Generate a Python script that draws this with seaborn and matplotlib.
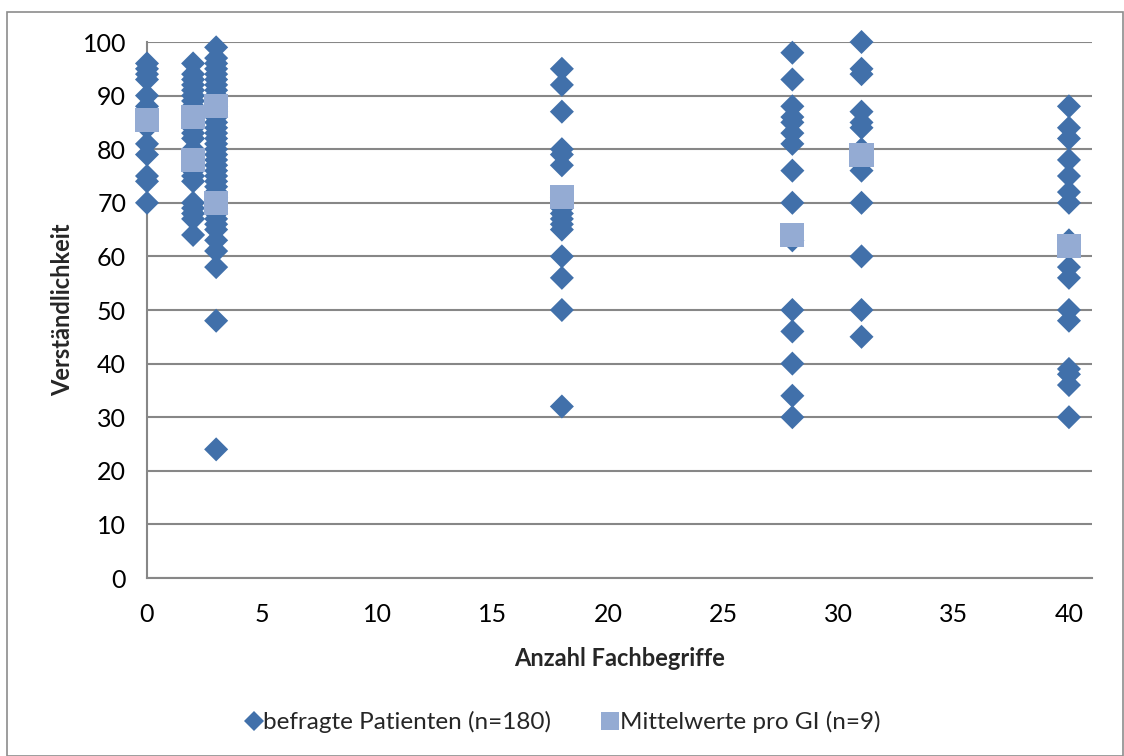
import matplotlib
matplotlib.use("Agg")
import matplotlib.pyplot as plt
import seaborn as sns
import pandas as pd
from matplotlib.lines import Line2D
from matplotlib.patches import Rectangle

# Individual patient ratings, grouped by number of technical terms
x_terms = [0, 2, 3, 18, 28, 31, 40]
ratings_0 = [96, 95, 94, 93, 90, 88, 87, 86, 85, 84, 81, 79, 75, 74, 70]
ratings_2 = [96, 94, 93, 92, 91, 90, 89, 88, 87, 86, 85, 84, 83, 82, 80, 79,
             78, 77, 76, 75, 74, 70, 69, 68, 67, 64]
ratings_3 = [99, 97, 96, 95, 94, 93, 92, 91, 90, 89, 88, 87, 86, 85, 84, 83,
             82, 81, 80, 79, 78, 77, 76, 75, 74, 73, 72, 71, 70, 69, 68, 67,
             66, 65, 63, 61, 58, 48, 24]
ratings_18 = [95, 92, 87, 80, 79, 77, 71, 70, 69, 68, 67, 66, 65, 60, 56, 50, 32]
ratings_28 = [98, 93, 88, 86, 85, 83, 81, 76, 70, 63, 50, 46, 40, 34, 30]
ratings_31 = [100, 95, 94, 87, 85, 84, 80, 78, 76, 70, 60, 50, 45]
ratings_40 = [88, 84, 82, 78, 75, 72, 70, 63, 58, 56, 50, 48, 39, 38, 36, 30]

# Mean rating per information sheet
mean_x = [0, 2, 2, 3, 3, 18, 28, 31, 40]
mean_y = [85.5, 86, 78, 88, 70, 71, 64, 79, 62]

label_patients = "befragte Patienten (n=180)"
label_means = "Mittelwerte pro GI (n=9)"
x_label = "Anzahl Fachbegriffe"
y_label = "Verständlichkeit"

groups = [ratings_0, ratings_2, ratings_3, ratings_18, ratings_28, ratings_31, ratings_40]
patients = pd.DataFrame({
    "x": [xv for xv, g in zip(x_terms, groups) for _ in g],
    "y": [v for g in groups for v in g],
})
means = pd.DataFrame({"x": mean_x, "y": mean_y})

sns.set_theme(style="white")
plt.rcParams["font.family"] = ["Lato", "DejaVu Sans"]

dark_blue = "#4170AA"
light_blue = "#94ABD3"
grid_grey = "#878787"

fig = plt.figure(figsize=(11.24, 7.56), dpi=100)
ax = fig.add_axes([147 / 1124, 1 - 578 / 756, (1092 - 147) / 1124, (578 - 42) / 756])

sns.scatterplot(data=patients, x="x", y="y", ax=ax, marker="D", s=150,
                color=dark_blue, edgecolor="none", linewidth=0, zorder=3,
                clip_on=False)
sns.scatterplot(data=means, x="x", y="y", ax=ax, marker="s", s=300,
                color=light_blue, edgecolor="none", linewidth=0, zorder=4,
                clip_on=False)

ax.set_xlim(0, 41)
ax.set_ylim(0, 100)
ax.set_xticks(range(0, 41, 5))
ax.set_yticks(range(0, 101, 10))
ax.yaxis.grid(True, color=grid_grey, linewidth=1.5)
ax.set_axisbelow(True)
for side in ["top", "right"]:
    ax.spines[side].set_visible(False)
ax.spines["left"].set_color(grid_grey)
ax.spines["left"].set_linewidth(1.5)
ax.spines["bottom"].set_color(grid_grey)
ax.spines["bottom"].set_linewidth(1.5)
ax.tick_params(axis="both", direction="out", length=4, width=1.2,
               color=grid_grey, labelsize=18, labelcolor="black")
ax.tick_params(axis="x", pad=14)
ax.tick_params(axis="y", pad=11)

ax.set_xlabel(x_label, fontsize=17, fontweight="bold", labelpad=15)
ax.set_ylabel(y_label, fontsize=17, fontweight="bold", labelpad=6)

handles = [
    Line2D([], [], marker="D", linestyle="none", color=dark_blue,
           markersize=10, markeredgewidth=0),
    Line2D([], [], marker="s", linestyle="none", color=light_blue,
           markersize=13, markeredgewidth=0),
]
fig.legend(handles, [label_patients, label_means], loc="center",
           bbox_to_anchor=(0.5, 1 - 722 / 756), ncol=2, frameon=False,
           fontsize=17.5, handletextpad=0.0, columnspacing=2.0, handlelength=0.8)

# thin frame around the whole chart
fig.patches.append(Rectangle((7 / 1124, 0.0), 1 - 8 / 1124, 1 - 12 / 756,
                             transform=fig.transFigure, fill=False,
                             edgecolor="#8c8c8c", linewidth=1.2))

fig.savefig("out.png", dpi=100)
